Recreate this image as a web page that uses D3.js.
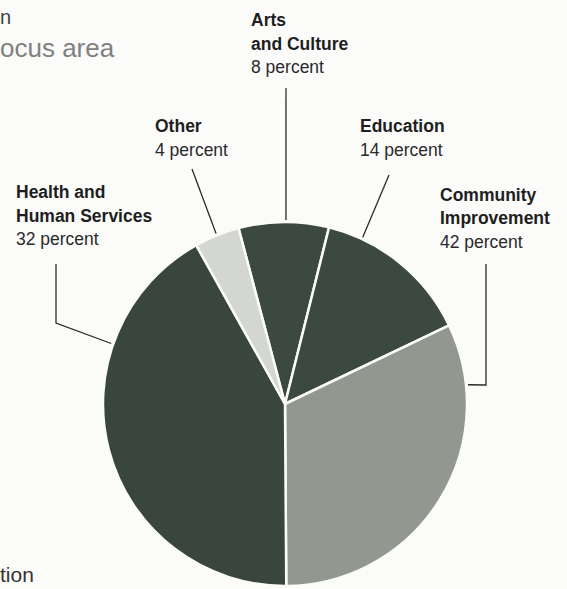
<!DOCTYPE html>
<html>
<head>
<meta charset="utf-8">
<script src="https://cdn.jsdelivr.net/npm/d3@7"></script>
<style>
  body { margin: 0; background: #fbfbfa; }
  svg { display: block; font-family: "Liberation Sans", Arial, sans-serif; }
</style>
</head>
<body>
<svg id="chart" width="567" height="589"></svg>
<script>
// slices in drawing order, clockwise from the top
var categories = ["Arts and Culture", "Education", "Community Improvement", "Health and Human Services", "Other"];
var labelLines = [["Arts", "and Culture"], ["Education"], ["Community", "Improvement"], ["Health and", "Human Services"], ["Other"]];
var labelPercents = [8, 14, 42, 32, 4];     // as printed on the labels
var sliceShares = [8, 14, 32, 42, 4];       // as the wedges are drawn
var sliceColors = ["#3b4941", "#3b4941", "#92978f", "#38463e", "#d4d6d1"];

var svg = d3.select("#chart"),
    width = +svg.attr("width"),
    height = +svg.attr("height");

var cx = 285, cy = 404, radius = 182;
var rad = Math.PI / 180;

// cropped title bits from the page
svg.append("text").attr("x", 0).attr("y", 24)
  .attr("font-size", 20).attr("fill", "#444").text("n");
svg.append("text").attr("x", 0).attr("y", 57)
  .attr("font-size", 26).attr("fill", "#808080").text("ocus area");
svg.append("text").attr("x", 0).attr("y", 582)
  .attr("font-size", 21).attr("fill", "#333").text("tion");

var pie = d3.pie()
  .sort(null)
  .startAngle(-14.8 * rad)
  .endAngle((360 - 14.8) * rad);

var arc = d3.arc().innerRadius(0).outerRadius(radius);

var arcs = pie(sliceShares);

var g = svg.append("g").attr("transform", "translate(" + cx + "," + cy + ")");

g.selectAll("path")
  .data(arcs)
  .enter().append("path")
  .attr("d", arc)
  .attr("fill", function(d, i) { return sliceColors[i]; })
  .attr("stroke", "#fbfbfa")
  .attr("stroke-width", 2.5)
  .attr("stroke-linejoin", "round");

// label layout: text origin, line height, and leader (anchor angle on rim + elbow points)
var layout = [
  {x: 251, y: 26, lh: 23.5, angle: 0.3, pts: [[286, 88]]},
  {x: 360, y: 132, lh: 23.5, angle: 25, pts: [[389, 175]]},
  {x: 440, y: 201, lh: 23.3, angle: 84, pts: [[486, 385], [486, 264]]},
  {x: 16, y: 198, lh: 23.5, angle: -70.8, pts: [[56, 323], [56, 264]]},
  {x: 155, y: 132, lh: 23.5, angle: -22, pts: [[192, 169]]}
];

var line = d3.line();

categories.forEach(function(cat, i) {
  var L = layout[i];
  var a = L.angle * rad;
  var rim = [cx + (radius + 2) * Math.sin(a), cy - (radius + 2) * Math.cos(a)];
  svg.append("path")
    .attr("d", line([rim].concat(L.pts)))
    .attr("fill", "none")
    .attr("stroke", "#2a2a2a")
    .attr("stroke-width", 1.3);

  var t = svg.append("text")
    .attr("x", L.x).attr("y", L.y)
    .attr("font-size", 17.5)
    .attr("fill", "#1e1e1e");
  labelLines[i].forEach(function(s, j) {
    t.append("tspan")
      .attr("x", L.x).attr("y", L.y + j * L.lh)
      .attr("font-weight", "bold")
      .text(s);
  });
  t.append("tspan")
    .attr("x", L.x).attr("y", L.y + labelLines[i].length * L.lh)
    .attr("fill", "#2a2a2a")
    .text(labelPercents[i] + " percent");
});
</script>
</body>
</html>
